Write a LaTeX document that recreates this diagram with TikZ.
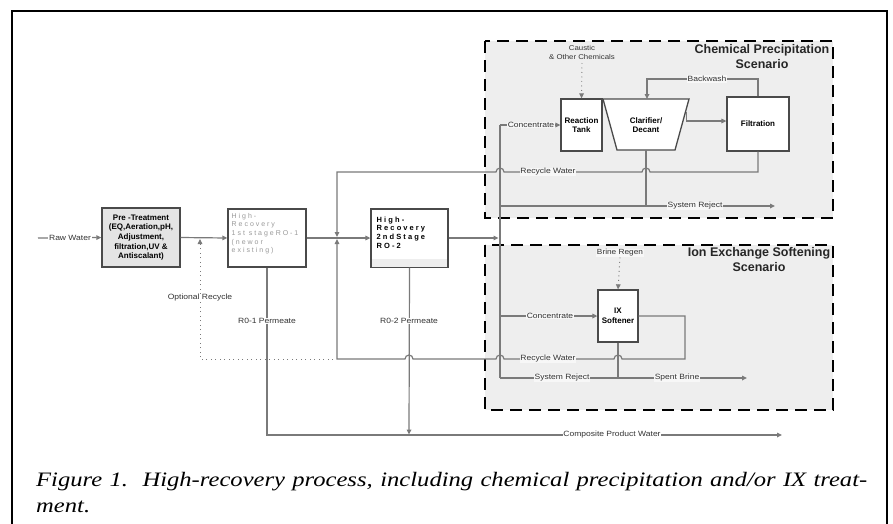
\documentclass[tikz,border=0pt]{standalone}
\usepackage{fontspec}
\setmainfont{Liberation Serif}
\setsansfont{Liberation Sans}
\newfontfamily\labfont[FakeStretch=1.12]{Liberation Sans}
\newfontfamily\boxfont{Liberation Sans}
\newfontfamily\spacedfont[LetterSpace=28]{Liberation Sans}
\newfontfamily\capfont[FakeStretch=1.2]{Liberation Serif}
\usetikzlibrary{arrows.meta,calc}
\definecolor{linegray}{HTML}{7A7A7A}
\definecolor{boxgray}{HTML}{EEEEEE}
\definecolor{pregray}{HTML}{E4E4E4}
\definecolor{bordergray}{HTML}{4A4A4A}
\definecolor{textgray}{HTML}{333333}
\definecolor{lightlbl}{HTML}{F7F7F7}
\begin{document}
\begin{tikzpicture}[x=1pt,y=-1pt,
  flow/.style={draw=linegray, line width=1.2pt},
  tip/.style={-{Triangle[length=5pt,width=4.6pt]}},
  dotline/.style={draw=linegray, line width=0.9pt, dash pattern=on 0.9pt off 3.6pt},
  lbl/.style={font=\labfont\fontsize{7.6}{8}\selectfont, text=textgray, fill=white, inner sep=0.8pt},
  lblin/.style={lbl, fill=lightlbl},
  proc/.style={draw=bordergray, line width=1.3pt, inner sep=0pt, align=center,
    font=\boxfont\bfseries\fontsize{8}{9.6}\selectfont},
  scen/.style={draw=black, line width=2.6pt, dash pattern=on 12pt off 7pt, fill=boxgray},
  ttl/.style={font=\boxfont\bfseries\fontsize{12.5}{15}\selectfont, align=center, inner sep=0pt, text=black!85}
]
\useasboundingbox (0,0) rectangle (893,523);
% outer frame
\draw[line width=2pt] (12,530) -- (12,11) -- (887,11) -- (887,530);

% scenario boxes
\draw[scen] (485,41) rectangle (833,218);
\draw[scen] (485,245) rectangle (833,410);
\node[ttl] (t1) at (762,57) {Chemical Precipitation\\Scenario};
\node[ttl] (t2) at (759,260) {Ion Exchange Softening\\Scenario};

% process boxes
\node[proc, fill=pregray, minimum width=78pt, minimum height=59pt] (pre) at (141,237.5)
  {Pre -Treatment\\(EQ,Aeration,pH,\\Adjustment,\\filtration,UV \&\\Antiscalant)};
\node[proc, fill=white, minimum width=78pt, minimum height=58pt] (ro1) at (267,238) {};
\node[anchor=north west, inner sep=0pt, align=left, text=black!40,
  font=\spacedfont\fontsize{7}{8.6}\selectfont] (ro1t) at (231.5,213)
  {High-\\Recovery\\1st stageRO-1\\(newor\\existing)};
\node[proc, fill=white, minimum width=77pt, minimum height=58pt] (ro2) at (409.5,238) {};
\fill[boxgray] (372,259) rectangle (447,266.5);
\node[anchor=north west, inner sep=0pt, align=left,
  font=\spacedfont\bfseries\fontsize{7.5}{8.7}\selectfont] (ro2t) at (376.5,216.5)
  {High-\\Recovery\\2ndStage\\RO-2};
\node[proc, fill=white, minimum width=41pt, minimum height=52pt] (rt) at (581.5,125) {Reaction\\Tank};
\node[proc, fill=white, minimum width=62pt, minimum height=54pt] (filt) at (758,124) {Filtration};
\node[proc, fill=white, minimum width=40pt, minimum height=52pt] (ix) at (618,316) {IX\\Softener};
% clarifier
\draw[draw=bordergray, line width=1.3pt, fill=white] (603,99) -- (689,99) -- (675,150) -- (617,150) -- cycle;
\node[align=center, inner sep=0pt, font=\boxfont\bfseries\fontsize{8}{9.6}\selectfont] (clar) at (646,125) {Clarifier/\\Decant};
\coordinate (clartop) at (647,99);
\coordinate (clarbot) at (646,150);
\coordinate (clarout) at (686.5,112);

% coordinates
\coordinate (rawin) at (38,238);
\coordinate (optj) at (200,238);
\coordinate (recj) at (337,238);
\coordinate (tTop) at (500,125);
\coordinate (tBot) at (500,378);
\coordinate (trunkin) at (500,238);
\coordinate (comp) at (267,435);
\coordinate (compend) at (782,435);

% main flow
\draw[flow,tip] (rawin) -- (pre.west);
\node[lbl] (lraw) at (70,238) {Raw Water};
\draw[flow,tip] (pre.east) -- (ro1.west);
\draw[flow,tip] (ro1.east) -- (ro2.west);
\draw[flow,tip] (ro2.east) -- ($(trunkin)+(-1.5,0)$);
% trunk
\draw[flow] (tTop) -- (tBot);

% chemical precipitation
\draw[flow,tip] (tTop) -- (rt.west);
\node[lblin] (lconc1) at (531,125) {Concentrate};
\draw[flow,tip] (clarout) -- (686.5,121) -- (filt.west |- 0,121);
\draw[flow,tip] (filt.north) -- (758,79) -- (647,79) -- (clartop);
\node[lblin] (lback) at (707,79) {Backwash};
\draw[flow] (clarbot) -- (646,206);
\draw[flow,tip] (500,206) -- (775,206);
\node[lblin] (lsr1) at (695,206) {System Reject};
\node[align=center, inner sep=0pt, text=textgray, font=\labfont\fontsize{7}{9.5}\selectfont] (caus) at (582,52.5) {Caustic\\\& Other Chemicals};
\draw[dotline,tip] (582,63) -- (rt.north);

% top recycle
\draw[flow,tip] (filt.south) -- (758,172) -- (650,172)
  arc[start angle=0,end angle=-180,radius=4] -- (504,172)
  arc[start angle=0,end angle=-180,radius=4] -- (337,172) -- ($(recj)+(0,-1)$);
\node[lblin] (lrw1) at (548,172) {Recycle Water};

% ion exchange
\draw[flow,tip] (500,316) -- (ix.west);
\node[lblin] (lconc2) at (550,316) {Concentrate};
\node[align=center, inner sep=0.8pt, fill=lightlbl, text=textgray, font=\labfont\fontsize{7.4}{8}\selectfont] (brine) at (620,253) {Brine Regen};
\draw[dotline,tip] (brine.south) -- (ix.north);
\draw[flow] (ix.south) -- (618,378);
\draw[flow,tip] (tBot) -- (747,378);
\node[lblin] (lsr2) at (562,378) {System Reject};
\node[lblin] (lsb) at (677,378) {Spent Brine};
\draw[flow,tip] (ix.east) -- (685,316) -- (685,359) -- (622,359)
  arc[start angle=0,end angle=-180,radius=4] -- (504,359)
  arc[start angle=0,end angle=-180,radius=4] -- (413,359)
  arc[start angle=0,end angle=-180,radius=4] -- (337,359) -- ($(recj)+(0,1)$);
\node[lblin] (lrw2) at (548,359) {Recycle Water};

% optional recycle
\draw[dotline,tip] (333,359) -- (200,359) -- ($(optj)+(0,1)$);
\node[lbl] (lopt) at (200,298) {Optional Recycle};

% permeates
\draw[flow,tip] (ro1.south) -- (comp) -- (compend);
\draw[flow,tip] (ro2.south) -- (409,434.5);
\node[lbl] (lp1) at (267,321) {R0-1 Permeate};
\node[lbl] (lp2) at (409,321) {R0-2 Permeate};
\node[lbl] (lcomp) at (612,435) {Composite Product Water};

% caption
\node[anchor=base west, inner sep=0pt, font=\capfont\itshape\fontsize{20.5}{24}\selectfont] (cap1) at (36,486)
  {\makebox[831pt][s]{Figure 1.\ \ High-recovery process, including chemical precipitation and/or IX treat-}};
\node[anchor=base west, inner sep=0pt, font=\capfont\itshape\fontsize{20.5}{24}\selectfont] (cap2) at (36,512) {ment.};
\end{tikzpicture}
\end{document}
